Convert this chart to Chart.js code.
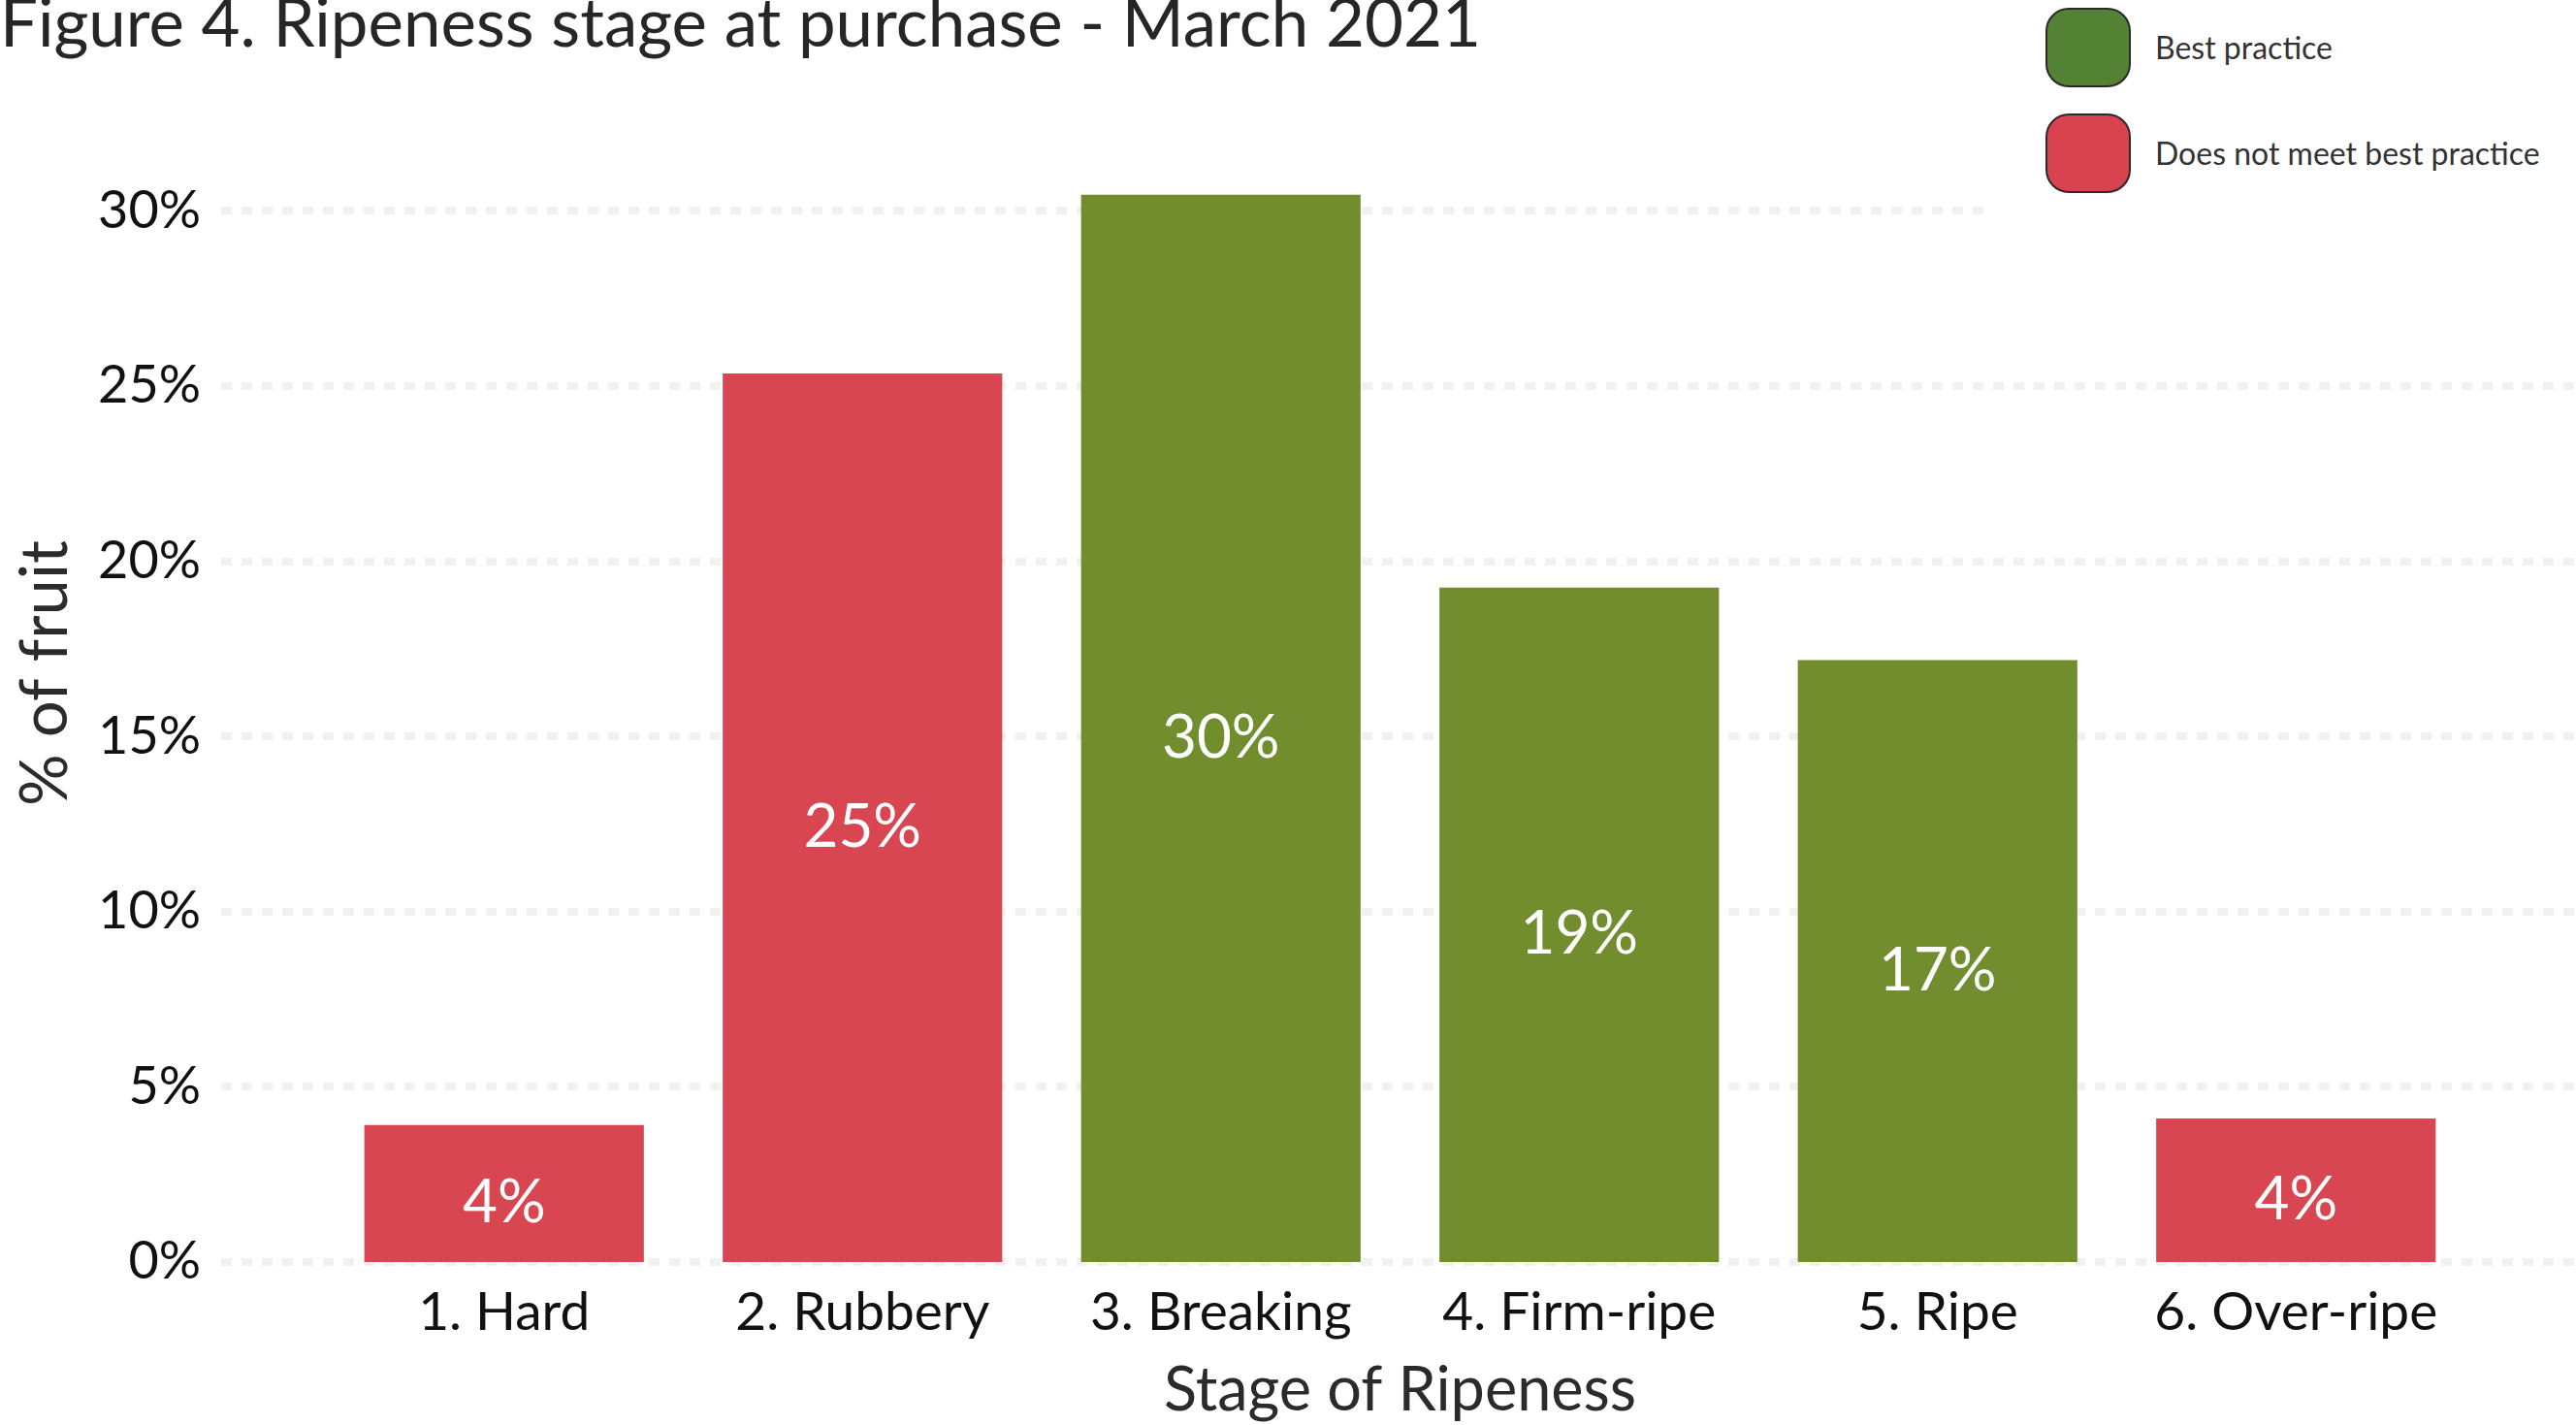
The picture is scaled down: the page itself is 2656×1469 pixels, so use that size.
<!DOCTYPE html>
<html>
<head>
<meta charset="utf-8">
<script src="https://cdn.jsdelivr.net/npm/chart.js@4.4.1/dist/chart.umd.min.js"></script>
<style>
  html, body { margin: 0; padding: 0; background: #fff; }
  #wrap { position: relative; width: 2656px; height: 1469px; }
  #legend { position: absolute; left: 2045px; top: 0; width: 611px; height: 226px; background: #fff; font-family: Lato, sans-serif; }
  .sw { position: absolute; left: 64px; width: 88px; height: 82px; box-sizing: border-box; border: 2px solid #2a2a2a; border-radius: 24px; }
  .lb { position: absolute; left: 177px; font-size: 32px; color: #333; line-height: 40px; white-space: nowrap; }
</style>
</head>
<body>
<div id="wrap">
  <canvas id="ripenessChart"></canvas>
  <div id="legend">
    <div class="sw" style="top:8px;background:#548235"></div>
    <div class="lb" style="top:29px">Best practice</div>
    <div class="sw" style="top:117px;background:#d9434f"></div>
    <div class="lb" style="top:138px">Does not meet best practice</div>
  </div>
</div>
<script>
// chart data
const stages = ['1. Hard', '2. Rubbery', '3. Breaking', '4. Firm-ripe', '5. Ripe', '6. Over-ripe'];
const pctFruit = [3.91, 25.36, 30.46, 19.25, 17.18, 4.10];
const bestPractice = [false, false, true, true, true, false];
const yTicks = [0, 5, 10, 15, 20, 25, 30];
// top of the y range (the tick padding already pins the plot top)
const Y_MAX = 31.8;

const GREEN = '#718d2e';
const RED = '#d84751';

Chart.defaults.font.family = 'Lato, sans-serif';

// dashed grid lines that run past the plot area, like the original
const gridPlugin = {
    id: 'wideGrid',
    beforeDatasetsDraw(chart) {
        const ctx = chart.ctx;
        const y = chart.scales.y;
        ctx.save();
        ctx.strokeStyle = '#f2f1ef';
        ctx.lineWidth = 8;
        ctx.setLineDash([11, 10]);
        y.ticks.forEach(t => {
            const py = Math.round(y.getPixelForValue(t.value));
            ctx.beginPath();
            ctx.moveTo(228, py);
            ctx.lineTo(chart.width, py);
            ctx.stroke();
        });
        ctx.restore();
    }
};

// white value labels in the middle of each bar
const valueLabels = {
    id: 'valueLabels',
    afterDatasetsDraw(chart) {
        const ctx = chart.ctx;
        const meta = chart.getDatasetMeta(0);
        ctx.save();
        ctx.fillStyle = '#ffffff';
        ctx.font = '62px Lato, sans-serif';
        ctx.textAlign = 'center';
        ctx.textBaseline = 'middle';
        meta.data.forEach((bar, i) => {
            const mid = (bar.y + bar.base) / 2;
            ctx.fillText(Math.round(pctFruit[i]) + '%', bar.x, mid + 10);
        });
        ctx.restore();
    }
};

// y axis title, placed a bit above the axis centre as in the original
const yTitle = {
    id: 'yTitle',
    afterDraw(chart) {
        const ctx = chart.ctx;
        ctx.save();
        ctx.translate(47, 694);
        ctx.rotate(-Math.PI / 2);
        ctx.fillStyle = '#2b2b2b';
        ctx.font = '67px Lato, sans-serif';
        ctx.textAlign = 'center';
        ctx.textBaseline = 'middle';
        ctx.fillText('% of fruit', 0, 0);
        ctx.restore();
    }
};

new Chart(document.getElementById('ripenessChart').getContext('2d'), {
    type: 'bar',
    data: {
        labels: stages,
        datasets: [{
            label: '% of fruit',
            data: pctFruit,
            backgroundColor: bestPractice.map(b => b ? GREEN : RED),
            borderWidth: 0,
            categoryPercentage: 1,
            barPercentage: 0.78
        }]
    },
    options: {
        responsive: true,
        maintainAspectRatio: false,
        animation: false,
        devicePixelRatio: 1,
        layout: { padding: { left: 0, right: 104, top: 0, bottom: 0 } },
        plugins: {
            legend: { display: false },
            tooltip: { enabled: false },
            title: {
                display: true,
                text: 'Figure 4. Ripeness stage at purchase - March 2021',
                align: 'start',
                color: '#262626',
                font: { size: 69, weight: 'normal', lineHeight: 0.23 },
                padding: { top: 0, bottom: 118.3 }
            }
        },
        scales: {
            x: {
                grid: { display: false },
                border: { display: false },
                ticks: { color: '#111', font: { size: 55 }, padding: 11, maxRotation: 0 },
                title: {
                    display: true,
                    text: 'Stage of Ripeness',
                    color: '#2b2b2b',
                    font: { size: 63, lineHeight: 1 },
                    padding: { top: 0, bottom: 4 }
                },
                afterFit(scale) { scale.height = 168; }
            },
            y: {
                min: 0,
                max: Y_MAX,
                grid: { display: false },
                border: { display: false },
                ticks: {
                    stepSize: 5,
                    includeBounds: false,
                    color: '#111',
                    font: { size: 54 },
                    padding: 120,
                    callback: v => v + '%'
                },
                afterBuildTicks(scale) { scale.ticks = yTicks.map(v => ({ value: v })); },
                afterFit(scale) { scale.width = 335; }
            }
        }
    },
    plugins: [gridPlugin, valueLabels, yTitle]
});
</script>
</body>
</html>
